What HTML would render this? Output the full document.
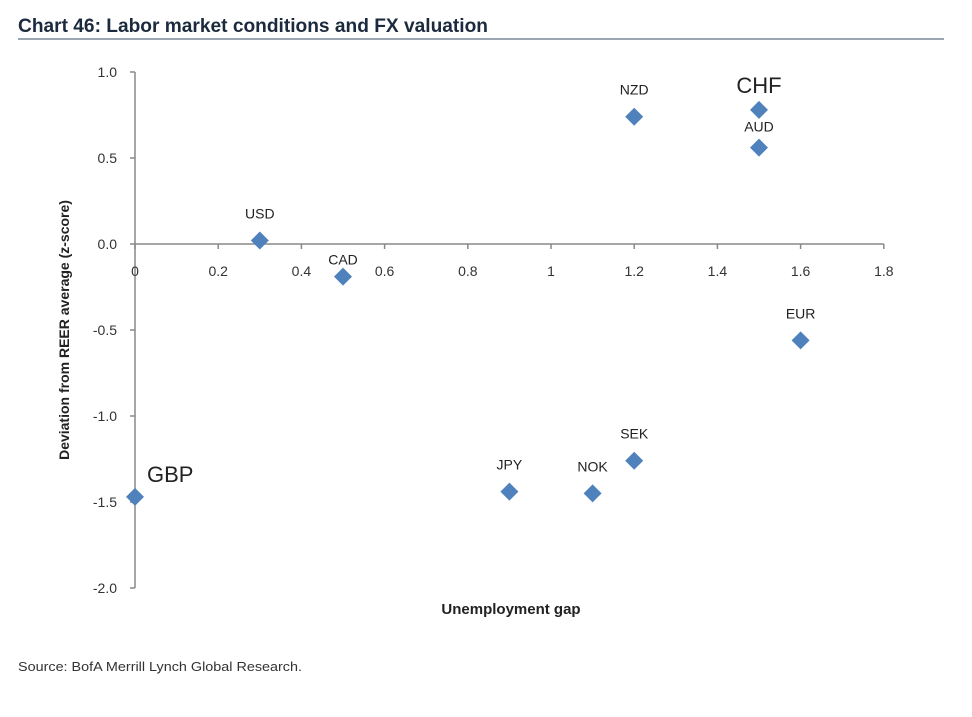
<!DOCTYPE html>
<html><head><meta charset="utf-8"><style>
html,body{margin:0;padding:0;background:#fff;}
body{width:972px;height:712px;overflow:hidden;font-family:"Liberation Sans",sans-serif;}
</style></head><body>
<svg width="972" height="712" xmlns="http://www.w3.org/2000/svg" font-family="Liberation Sans, sans-serif">
<text x="18" y="32" font-size="19" font-weight="bold" fill="#1c2a3e" textLength="470" lengthAdjust="spacingAndGlyphs">Chart 46: Labor market conditions and FX valuation</text>
<line x1="18" y1="39" x2="944" y2="39" stroke="#7a8799" stroke-width="1.5"/>
<g id="axes"></g>
<g id="pts"></g>
<text x="511" y="614" text-anchor="middle" font-size="15" font-weight="bold" fill="#222">Unemployment gap</text>
<text transform="translate(69,330) rotate(-90)" text-anchor="middle" font-size="14" font-weight="bold" fill="#222">Deviation from REER average (z-score)</text>
<text x="18" y="671" font-size="13" fill="#333" textLength="284" lengthAdjust="spacingAndGlyphs">Source: BofA Merrill Lynch Global Research.</text>
</svg>
<script>
const labels=["USD","CAD","NZD","CHF","AUD","EUR","SEK","NOK","JPY","GBP"];
const xVals=[0.3,0.5,1.2,1.5,1.5,1.6,1.2,1.1,0.9,0.0];
const yVals=[0.02,-0.19,0.74,0.78,0.56,-0.56,-1.26,-1.45,-1.44,-1.47];
const xTicks=[0,0.2,0.4,0.6,0.8,1,1.2,1.4,1.6,1.8];
const yTicks=[1.0,0.5,0.0,-0.5,-1.0,-1.5,-2.0];
const xs=v=>135+v*416, ys=v=>244-v*172;
const NS="http://www.w3.org/2000/svg";
function mk(t,a,p){const e=document.createElementNS(NS,t);for(const k in a)e.setAttribute(k,a[k]);p.appendChild(e);return e;}
const ax=document.getElementById('axes'), pg=document.getElementById('pts');
let l=mk('line',{x1:xs(0),y1:ys(1),x2:xs(0),y2:ys(-2),stroke:'#888','stroke-width':1.5},ax);


l=mk('line',{x1:xs(0),y1:ys(0),x2:xs(1.8),y2:ys(0),stroke:'#888','stroke-width':1.5},ax);


yTicks.forEach(v=>{
 mk('line',{x1:xs(0)-5,y1:ys(v),x2:xs(0),y2:ys(v),stroke:'#888','stroke-width':1.5},ax);
 const t=mk('text',{x:xs(0)-18,y:ys(v)+5,'text-anchor':'end','font-size':14,fill:'#333'},ax);
 t.textContent=v.toFixed(1);
 
 
});
xTicks.forEach(v=>{
 mk('line',{x1:xs(v),y1:ys(0),x2:xs(v),y2:ys(0)+5,stroke:'#888','stroke-width':1.5},ax);
 const t=mk('text',{x:xs(v),y:ys(0)+32,'text-anchor':'middle','font-size':14,fill:'#333'},ax);
 t.textContent=String(v);
 
 
});
labels.forEach((n,i)=>{
 const cx=xs(xVals[i]), cy=ys(yVals[i]);
 const d=mk('polygon',{points:`${cx},${cy-9} ${cx+9},${cy} ${cx},${cy+9} ${cx-9},${cy}`,fill:'#4f81bd'},pg);
 
 
 let big=(n==='CHF'||n==='GBP');
 let tx=cx, ty=cy-22, anchor='middle';
 if(n==='CHF'){ty=cy-17;}
 if(n==='GBP'){tx=cx+12;ty=cy-15;anchor='start';}
 if(n==='CAD'){ty=cy-12;}
 if(n==='AUD'){ty=cy-16;}
 const t=mk('text',{x:tx,y:ty,'text-anchor':anchor,'font-size':big?22:14,fill:'#222'},pg);
 t.textContent=n;
 
 
});
</script>
</body></html>
